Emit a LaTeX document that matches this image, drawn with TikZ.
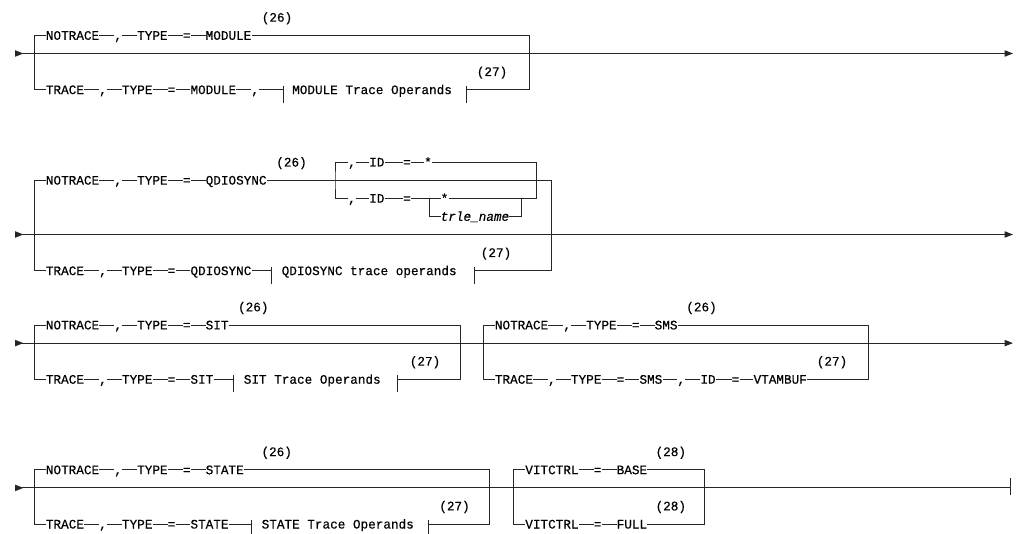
\documentclass[tikz,border=0pt]{standalone}
\usepackage{fontspec}
\newfontfamily\rr[FakeStretch=0.975,FakeBold=0.4]{Liberation Mono}
\tikzset{
  tok/.style={font={\rr\fontsize{13pt}{15pt}\selectfont}, inner sep=0pt, text height=8.8pt, text depth=0pt, anchor=west},
  lbl/.style={tok, anchor=center},
  ln/.style={line width=1pt, draw=black!85},
  tip/.style={fill=black!85},
}
\begin{document}
\begin{tikzpicture}[x=1pt,y=-1pt]
\useasboundingbox (0,0) rectangle (1019,534);

% ================= Section 1 =================
\coordinate (a1) at (15,53.5);
\coordinate (b1) at (1004.6,53.5);
\coordinate (L1) at (34.3,53.5);
\coordinate (R1) at (529.2,53.5);
\node[tok] (u1a) at (45.7,35.4) {NOTRACE};
\node[tok] (u1b) at (114.2,35.4) {,};
\node[tok] (u1c) at (137.0,35.4) {TYPE};
\node[tok] (u1d) at (182.7,35.4) {=};
\node[tok] (u1e) at (205.5,35.4) {MODULE};
\node[lbl] (n1a) at (277,17.3) {(26)};
\node[tok] (l1a) at (45.7,89.7) {TRACE};
\node[tok] (l1b) at (99.0,89.7) {,};
\node[tok] (l1c) at (121.8,89.7) {TYPE};
\node[tok] (l1d) at (167.5,89.7) {=};
\node[tok] (l1e) at (190.3,89.7) {MODULE};
\node[tok] (l1f) at (251.2,89.7) {,};
\coordinate (l1g) at (283.5,89.7);
\node[tok] (l1h) at (292,89.7) {MODULE Trace Operands};
\coordinate (l1i) at (466.7,89.7);
\node[lbl] (n1b) at (492,71.6) {(27)};

\draw[ln] (a1) -- (b1);
\fill[tip] (15,50.2) -- (23.3,53.5) -- (15,56.8) -- cycle;
\fill[tip] (1004.6,50.2) -- (1012.9,53.5) -- (1004.6,56.8) -- cycle;
\draw[ln] (u1a.west) -| (L1) |- (l1a.west);
\draw[ln] (u1a.east) -- (u1b.west) (u1b.east) -- (u1c.west) (u1c.east) -- (u1d.west) (u1d.east) -- (u1e.west);
\draw[ln] (u1e.east) -| (R1) |- (l1i);
\draw[ln] (l1a.east) -- (l1b.west) (l1b.east) -- (l1c.west) (l1c.east) -- (l1d.west) (l1d.east) -- (l1e.west) (l1e.east) -- (l1f.west) (l1f.east) -- (l1g);
\draw[ln] ([yshift=4pt]l1g) -- ([yshift=-13pt]l1g);
\draw[ln] ([yshift=4pt]l1i) -- ([yshift=-13pt]l1i);

% ================= Section 2 =================
\coordinate (a2) at (15,234.5);
\coordinate (b2) at (1004.6,234.5);
\coordinate (L2) at (34.3,234.5);
\coordinate (R2) at (551.8,234.5);
\node[tok] (u2a) at (45.7,180.2) {NOTRACE};
\node[tok] (u2b) at (114.2,180.2) {,};
\node[tok] (u2c) at (137.0,180.2) {TYPE};
\node[tok] (u2d) at (182.7,180.2) {=};
\node[tok] (u2e) at (205.5,180.2) {QDIOSYNC};
\node[lbl] (n2a) at (291.5,162.1) {(26)};
% optional ID group
\coordinate (IL) at (335,180.2);
\coordinate (IR) at (536.7,180.2);
\node[tok] (i1a) at (348,162.1) {,};
\node[tok] (i1b) at (369,162.1) {ID};
\node[tok] (i1c) at (403,162.1) {=};
\node[tok] (i1d) at (424,162.1) {*};
\node[tok] (i2a) at (348,198.3) {,};
\node[tok] (i2b) at (369,198.3) {ID};
\node[tok] (i2c) at (403,198.3) {=};
\coordinate (JL) at (429,198.3);
\node[tok] (i2d) at (440.5,198.3) {*};
\coordinate (JR) at (521.7,198.3);
\node[tok] (i3) at (440.5,216.4) {\itshape trle\_name};
% trace row
\node[tok] (l2a) at (45.7,270.7) {TRACE};
\node[tok] (l2b) at (99.0,270.7) {,};
\node[tok] (l2c) at (121.8,270.7) {TYPE};
\node[tok] (l2d) at (167.5,270.7) {=};
\node[tok] (l2e) at (190.3,270.7) {QDIOSYNC};
\coordinate (l2g) at (271.5,270.7);
\node[tok] (l2h) at (281.5,270.7) {QDIOSYNC trace operands};
\coordinate (l2i) at (474,270.7);
\node[lbl] (n2b) at (496,252.6) {(27)};

\draw[ln] (a2) -- (b2);
\fill[tip] (15,231.2) -- (23.3,234.5) -- (15,237.8) -- cycle;
\fill[tip] (1004.6,231.2) -- (1012.9,234.5) -- (1004.6,237.8) -- cycle;
\draw[ln] (u2a.west) -| (L2) |- (l2a.west);
\draw[ln] (u2a.east) -- (u2b.west) (u2b.east) -- (u2c.west) (u2c.east) -- (u2d.west) (u2d.east) -- (u2e.west);
\draw[ln] (u2e.east) -| (R2) |- (l2i);
\draw[ln] (i1a.west) -| (IL) |- (i2a.west);
\draw[ln] (i1a.east) -- (i1b.west) (i1b.east) -- (i1c.west) (i1c.east) -- (i1d.west);
\draw[ln] (i1d.east) -| (IR) |- (i2d.east);
\draw[ln] (i2a.east) -- (i2b.west) (i2b.east) -- (i2c.west) (i2c.east) -- (JL) -- (i2d.west);
\draw[ln] (JL) |- (i3.west);
\draw[ln] (i3.east) -| (JR);
\draw[ln] (l2a.east) -- (l2b.west) (l2b.east) -- (l2c.west) (l2c.east) -- (l2d.west) (l2d.east) -- (l2e.west) (l2e.east) -- (l2g);
\draw[ln] ([yshift=4pt]l2g) -- ([yshift=-13pt]l2g);
\draw[ln] ([yshift=4pt]l2i) -- ([yshift=-13pt]l2i);

% ================= Section 3 =================
\coordinate (a3) at (15,343.1);
\coordinate (b3) at (1004.6,343.1);
\coordinate (L3) at (34.3,343.1);
\coordinate (R3) at (460.2,343.1);
\node[tok] (u3a) at (45.7,325) {NOTRACE};
\node[tok] (u3b) at (114.2,325) {,};
\node[tok] (u3c) at (137.0,325) {TYPE};
\node[tok] (u3d) at (182.7,325) {=};
\node[tok] (u3e) at (205.5,325) {SIT};
\node[lbl] (n3a) at (253.3,306.9) {(26)};
\node[tok] (l3a) at (45.7,379.3) {TRACE};
\node[tok] (l3b) at (99.0,379.3) {,};
\node[tok] (l3c) at (121.8,379.3) {TYPE};
\node[tok] (l3d) at (167.5,379.3) {=};
\node[tok] (l3e) at (190.3,379.3) {SIT};
\coordinate (l3g) at (233,379.3);
\node[tok] (l3h) at (243.6,379.3) {SIT Trace Operands};
\coordinate (l3i) at (397.3,379.3);
\node[lbl] (n3b) at (425,361.2) {(27)};
% SMS group
\coordinate (L4) at (483.3,343.1);
\coordinate (R4) at (868,343.1);
\node[tok] (v1a) at (494.7,325) {NOTRACE};
\node[tok] (v1b) at (563.2,325) {,};
\node[tok] (v1c) at (586.0,325) {TYPE};
\node[tok] (v1d) at (631.7,325) {=};
\node[tok] (v1e) at (654.5,325) {SMS};
\node[lbl] (n4a) at (701.5,306.9) {(26)};
\node[tok] (w1a) at (494.7,379.3) {TRACE};
\node[tok] (w1b) at (547.9,379.3) {,};
\node[tok] (w1c) at (570.8,379.3) {TYPE};
\node[tok] (w1d) at (616.5,379.3) {=};
\node[tok] (w1e) at (639.3,379.3) {SMS};
\node[tok] (w1f) at (677.3,379.3) {,};
\node[tok] (w1g) at (700.2,379.3) {ID};
\node[tok] (w1h) at (731.5,379.3) {=};
\node[tok] (w1i) at (753.4,379.3) {VTAMBUF};
\node[lbl] (n4b) at (832,361.2) {(27)};

\draw[ln] (a3) -- (b3);
\fill[tip] (15,339.8) -- (23.3,343.1) -- (15,346.4) -- cycle;
\fill[tip] (1004.6,339.8) -- (1012.9,343.1) -- (1004.6,346.4) -- cycle;
\draw[ln] (u3a.west) -| (L3) |- (l3a.west);
\draw[ln] (u3a.east) -- (u3b.west) (u3b.east) -- (u3c.west) (u3c.east) -- (u3d.west) (u3d.east) -- (u3e.west);
\draw[ln] (u3e.east) -| (R3) |- (l3i);
\draw[ln] (l3a.east) -- (l3b.west) (l3b.east) -- (l3c.west) (l3c.east) -- (l3d.west) (l3d.east) -- (l3e.west) (l3e.east) -- (l3g);
\draw[ln] ([yshift=4pt]l3g) -- ([yshift=-13pt]l3g);
\draw[ln] ([yshift=4pt]l3i) -- ([yshift=-13pt]l3i);
\draw[ln] (v1a.west) -| (L4) |- (w1a.west);
\draw[ln] (v1a.east) -- (v1b.west) (v1b.east) -- (v1c.west) (v1c.east) -- (v1d.west) (v1d.east) -- (v1e.west);
\draw[ln] (v1e.east) -| (R4) |- (w1i.east);
\draw[ln] (w1a.east) -- (w1b.west) (w1b.east) -- (w1c.west) (w1c.east) -- (w1d.west) (w1d.east) -- (w1e.west) (w1e.east) -- (w1f.west) (w1f.east) -- (w1g.west) (w1g.east) -- (w1h.west) (w1h.east) -- (w1i.west);

% ================= Section 4 =================
\coordinate (a5) at (15,487.9);
\coordinate (b5) at (1010,487.9);
\coordinate (L5) at (34.3,487.9);
\coordinate (R5) at (489.5,487.9);
\node[tok] (u5a) at (45.7,469.8) {NOTRACE};
\node[tok] (u5b) at (114.2,469.8) {,};
\node[tok] (u5c) at (137.0,469.8) {TYPE};
\node[tok] (u5d) at (182.7,469.8) {=};
\node[tok] (u5e) at (205.5,469.8) {STATE};
\node[lbl] (n5a) at (276.7,451.7) {(26)};
\node[tok] (l5a) at (45.7,524.1) {TRACE};
\node[tok] (l5b) at (99.0,524.1) {,};
\node[tok] (l5c) at (121.8,524.1) {TYPE};
\node[tok] (l5d) at (167.5,524.1) {=};
\node[tok] (l5e) at (190.3,524.1) {STATE};
\coordinate (l5g) at (251,524.1);
\node[tok] (l5h) at (261.5,524.1) {STATE Trace Operands};
\coordinate (l5i) at (428.6,524.1);
\node[lbl] (n5b) at (454.5,506) {(27)};
% VITCTRL group
\coordinate (L6) at (513.7,487.9);
\coordinate (R6) at (704.5,487.9);
\node[tok] (x1a) at (525.1,469.8) {VITCTRL};
\node[tok] (x1b) at (593.6,469.8) {=};
\node[tok] (x1c) at (616.5,469.8) {BASE};
\node[lbl] (n6a) at (670.8,451.7) {(28)};
\node[tok] (x2a) at (525.1,524.1) {VITCTRL};
\node[tok] (x2b) at (593.6,524.1) {=};
\node[tok] (x2c) at (616.5,524.1) {FULL};
\node[lbl] (n6b) at (670.8,506) {(28)};

\draw[ln] (a5) -- (b5);
\fill[tip] (15,484.6) -- (23.3,487.9) -- (15,491.2) -- cycle;
\draw[ln] ([yshift=9.6pt]b5) -- ([yshift=-7pt]b5);
\draw[ln] (u5a.west) -| (L5) |- (l5a.west);
\draw[ln] (u5a.east) -- (u5b.west) (u5b.east) -- (u5c.west) (u5c.east) -- (u5d.west) (u5d.east) -- (u5e.west);
\draw[ln] (u5e.east) -| (R5) |- (l5i);
\draw[ln] (l5a.east) -- (l5b.west) (l5b.east) -- (l5c.west) (l5c.east) -- (l5d.west) (l5d.east) -- (l5e.west) (l5e.east) -- (l5g);
\draw[ln] ([yshift=4pt]l5g) -- ([yshift=-13pt]l5g);
\draw[ln] ([yshift=4pt]l5i) -- ([yshift=-13pt]l5i);
\draw[ln] (x1a.west) -| (L6) |- (x2a.west);
\draw[ln] (x1a.east) -- (x1b.west) (x1b.east) -- (x1c.west);
\draw[ln] (x2a.east) -- (x2b.west) (x2b.east) -- (x2c.west);
\draw[ln] (x1c.east) -| (R6) |- (x2c.east);
\end{tikzpicture}
\end{document}
